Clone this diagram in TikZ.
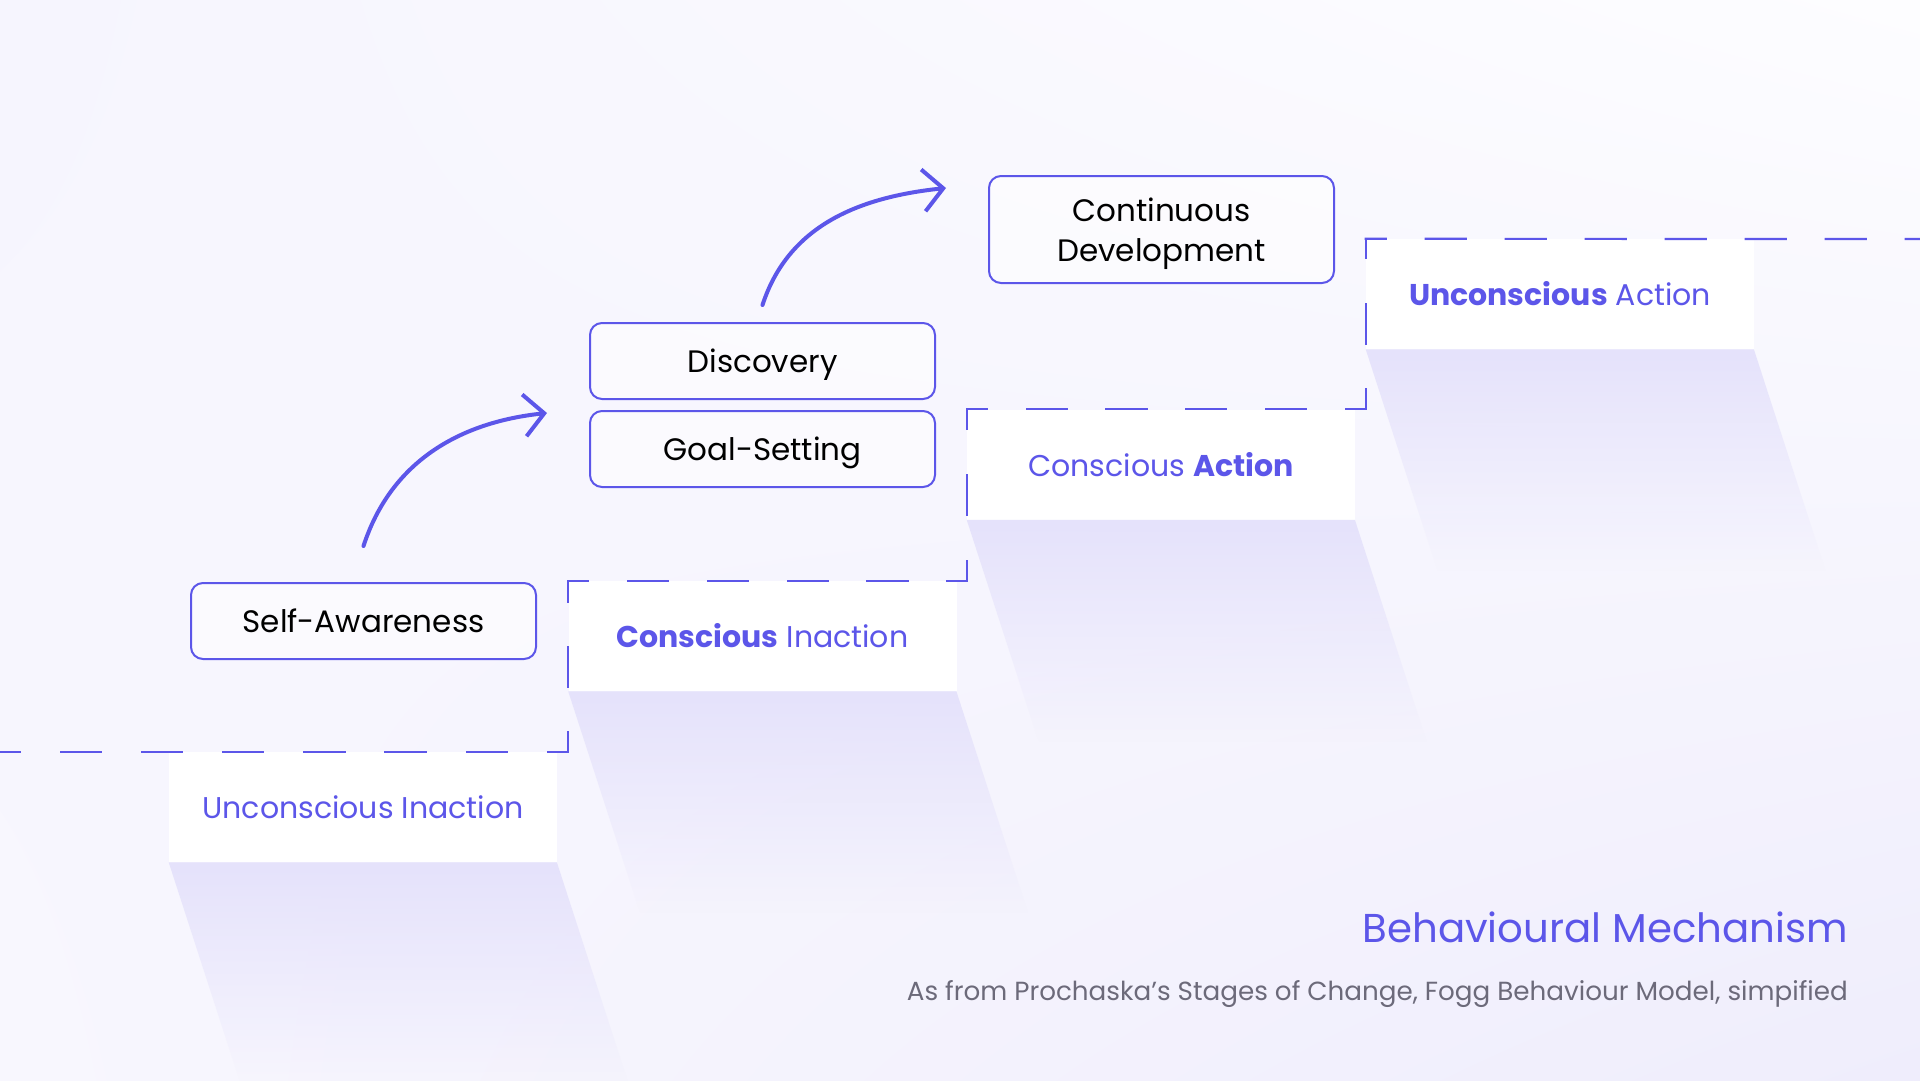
\documentclass[tikz,border=0pt]{standalone}
\usepackage{fontspec}
\setmainfont{Poppins}
\usetikzlibrary{positioning,arrows.meta,fadings,shadings}
\definecolor{accent}{HTML}{5C56E9}
\definecolor{shadowc}{HTML}{E5E2FB}
\definecolor{subgray}{HTML}{6C6A7A}
\definecolor{bgA}{HTML}{F6F5FE}
\definecolor{bgB}{HTML}{FDFDFF}
\definecolor{bgC}{HTML}{F8F7FE}
\definecolor{bgD}{HTML}{EFEDFC}
\tikzset{
  stagebox/.style={draw=accent,line width=2pt,rounded corners=12pt,fill=white,fill opacity=0.5,text opacity=1,
    minimum width=345pt,minimum height=76pt,inner sep=0pt,text depth=0pt,align=center,font=\fontsize{31}{40}\selectfont},
  panel/.style={fill=white,minimum width=388pt,minimum height=110pt,inner sep=0pt,text=accent,
    font=\fontsize{30}{40}\selectfont},
  stair/.style={accent,line width=2.2pt,line cap=rect,dash phase=20pt},
  uparrow/.style={accent,line width=4pt,line cap=round,-{Straight Barb[length=20pt,width=42pt]}}
}
\begin{document}
\begin{tikzpicture}[x=1pt,y=1pt]
\useasboundingbox (0,0) rectangle (1920,-1080);
\shade[upper left=bgA,upper right=bgB,lower left=bgC,lower right=bgD] (0,0) rectangle (1920,-1080);
% stages
\node[panel] (ui) at (363,-807) {Unconscious Inaction};
\node[panel] (ci) at (762.5,-636) {\textbf{Conscious} Inaction};
\node[panel] (ca) at (1161,-464.5) {Conscious \textbf{Action}};
\node[panel] (ua) at (1560,-294) {\textbf{Unconscious} Action};
\fill[shadowc,path fading=south] (ui.south west) -- (ui.south east) -- ++(72,-222) -- ([shift={(72,-222)}]ui.south west) -- cycle;
\fill[shadowc,path fading=south] (ci.south west) -- (ci.south east) -- ++(72,-222) -- ([shift={(72,-222)}]ci.south west) -- cycle;
\fill[shadowc,path fading=south] (ca.south west) -- (ca.south east) -- ++(72,-222) -- ([shift={(72,-222)}]ca.south west) -- cycle;
\fill[shadowc,path fading=south] (ua.south west) -- (ua.south east) -- ++(72,-222) -- ([shift={(72,-222)}]ua.south west) -- cycle;
\coordinate (s0) at (0,-752);
\coordinate (s1) at (s0 -| ci.north west);
\coordinate (s2) at (ci.north west -| ca.north west);
\coordinate (s3) at (ca.north west -| ua.north west);
\draw[stair,dash pattern=on 40pt off 41.1pt] (s0) -- (s1);
\draw[stair,dash pattern=on 40pt off 45pt] (s1) -- (ci.north west);
\draw[stair,dash pattern=on 40pt off 39.8pt] (ci.north west) -- (s2);
\draw[stair,dash pattern=on 40pt off 46pt] (s2) -- (ca.north west);
\draw[stair,dash pattern=on 40pt off 39.8pt] (ca.north west) -- (s3);
\draw[stair,dash pattern=on 40pt off 45.5pt] (s3) -- (ua.north west);
\draw[stair,dash pattern=on 40pt off 40pt] (ua.north west) -- (1920,-239);
% steps
\node[stagebox] (sa) at (363.5,-621) {Self-Awareness};
\node[stagebox] (disc) at (762.5,-361) {Discovery};
\node[stagebox,below=10pt of disc] (goal) {Goal-Setting};
\node[stagebox,minimum height=107pt] (cd) at (1161.5,-229.5) {Continuous\\Development};
\draw[uparrow] ([yshift=36pt]sa.north) to[out=72,in=186] ([xshift=-42pt,yshift=-3pt]goal.north west);
\draw[uparrow] ([yshift=17pt]disc.north) to[out=72,in=186] ([xshift=-42pt,yshift=-13pt]cd.north west);
% caption
\node[anchor=east,inner sep=0pt,text=accent,font=\fontsize{40.3}{48}\selectfont] (title) at (1848,-927) {Behavioural Mechanism};
\node[anchor=east,inner sep=0pt,text=subgray,font=\fontsize{26.2}{30}\selectfont] (sub) at (1848,-994) {As from Prochaska’s Stages of Change, Fogg Behaviour Model, simpified};
\end{tikzpicture}
\end{document}
